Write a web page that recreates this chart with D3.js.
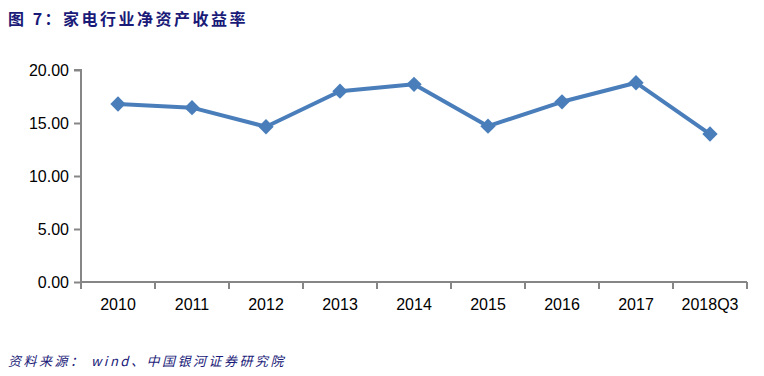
<!DOCTYPE html>
<html>
<head>
<meta charset="utf-8">
<script src="https://cdn.jsdelivr.net/npm/d3@7/dist/d3.min.js"></script>
<style>
  body { margin: 0; background: #fff; }
  .tick text { font-family: "Liberation Sans", Arial, sans-serif; font-size: 16px; fill: #000; }
</style>
</head>
<body>
<script>
const categories = ["2010", "2011", "2012", "2013", "2014", "2015", "2016", "2017", "2018Q3"];
const roe = [16.79, 16.45, 14.65, 18.0, 18.65, 14.7, 17.0, 18.8, 13.96];
const yTicks = [0, 5, 10, 15, 20];

const width = 764, height = 376;
const margin = { left: 81, top: 70, right: 17, bottom: 94 };

const svg = d3.select("body").append("svg")
    .attr("width", width)
    .attr("height", height);

svg.append("text")
    .attr("x", 8).attr("y", 25)
    .attr("fill", "#1a1a78")
    .style("font-family", "'Noto Sans CJK SC', sans-serif")
    .style("font-weight", "bold")
    .style("font-size", "16px")
    .style("letter-spacing", "2.5px")
    .text("图 7：家电行业净资产收益率");

let x = d3.scaleBand()
    .domain(categories)
    .range([margin.left, width - margin.right]);

let y = d3.scaleLinear()
    .domain([0, 20])
    .range([height - margin.bottom, margin.top]);

// y axis
let yAxis = d3.axisLeft(y)
    .tickValues(yTicks)
    .tickFormat(d3.format(".2f"))
    .tickSize(7)
    .tickPadding(5);

let yG = svg.append("g")
    .attr("transform", "translate(" + margin.left + ",0)")
    .call(yAxis);
yG.select(".domain").attr("stroke", "#868686").attr("stroke-width", 2)
    .attr("d", "M-7," + y(20) + "H0V" + (y(0) + 7));
yG.selectAll(".tick line").attr("stroke", "#868686").attr("stroke-width", 2);

// x axis with ticks at band boundaries
let xAxis = d3.axisBottom(x).tickSize(0).tickPadding(17);
let xG = svg.append("g")
    .attr("transform", "translate(0," + y(0) + ")")
    .call(xAxis);
xG.select(".domain").attr("stroke", "#868686").attr("stroke-width", 2)
    .attr("d", "M" + margin.left + ",0H" + (width - margin.right));
xG.selectAll(".tick text").attr("dy", "0.71em");

let bounds = categories.slice(1).map(function (c) { return x(c); });
bounds.push(x.range()[1]);
xG.selectAll("line.sep")
    .data(bounds)
    .enter().append("line")
    .attr("class", "sep")
    .attr("x1", function (d) { return d; })
    .attr("x2", function (d) { return d; })
    .attr("y1", 0).attr("y2", 7)
    .attr("stroke", "#868686").attr("stroke-width", 2);

// line
let line = d3.line()
    .x(function (d, i) { return x(categories[i]) + x.bandwidth() / 2; })
    .y(function (d) { return y(d); });

svg.append("path")
    .datum(roe)
    .attr("d", line)
    .attr("fill", "none")
    .attr("stroke", "#4a7ebb")
    .attr("stroke-width", 4)
    .attr("stroke-linejoin", "round");

svg.selectAll("path.marker")
    .data(roe)
    .enter().append("path")
    .attr("class", "marker")
    .attr("d", d3.symbol().type(d3.symbolDiamond2).size(150))
    .attr("transform", function (d, i) {
        return "translate(" + (x(categories[i]) + x.bandwidth() / 2) + "," + y(d) + ")";
    })
    .attr("fill", "#4a7ebb");

svg.append("text")
    .attr("x", 8).attr("y", 366)
    .attr("fill", "#1a1a78")
    .style("font-family", "'Noto Sans CJK SC', sans-serif")
    .style("font-style", "italic")
    .style("font-size", "13px")
    .style("letter-spacing", "2.5px")
    .text("资料来源： wind、中国银河证券研究院");
</script>
</body>
</html>
